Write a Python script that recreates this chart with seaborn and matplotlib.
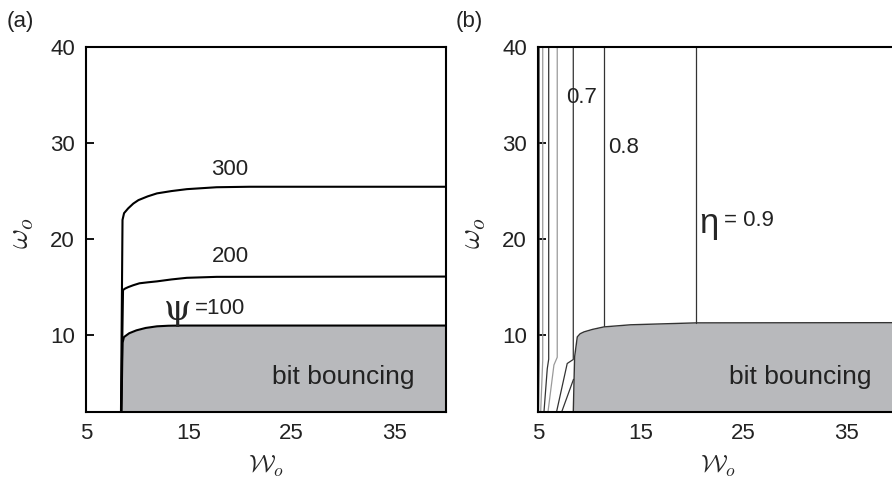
import matplotlib
matplotlib.use("Agg")
import matplotlib.pyplot as plt
import seaborn as sns
import pandas as pd

# ---------------- data ----------------
# Panel (a): psi iso-lines (x = W_o, y = omega_o)
psi_labels = ["=100", "200", "300"]
psi100_x = [8.45, 8.55, 8.69, 9.2, 9.9, 10.8, 11.9, 13.0, 14.2, 40.0]
psi100_y = [2.0, 9.2, 9.8, 10.2, 10.5, 10.75, 10.92, 10.98, 11.0, 11.0]
psi200_x = [8.42, 8.6, 8.8, 9.1, 9.6, 10.2, 11.0, 11.9, 13.3, 14.8, 17.7, 40.0]
psi200_y = [2.0, 14.7, 14.85, 15.0, 15.2, 15.4, 15.5, 15.6, 15.8, 15.97, 16.07, 16.1]
psi300_x = [8.40, 8.55, 8.7, 9.1, 9.6, 10.1, 11.0, 11.9, 13.3, 14.8, 17.7, 20.9, 40.0]
psi300_y = [2.0, 22.0, 22.7, 23.2, 23.7, 24.06, 24.45, 24.76, 25.0, 25.2, 25.4, 25.45, 25.45]

# Panel (b): bit-bouncing boundary and eta iso-lines
bounce_b_x = [8.43, 8.56, 8.82, 9.1, 9.47, 10.3, 11.41, 14.0, 20.4, 40.0]
bounce_b_y = [2.0, 7.74, 9.82, 10.15, 10.34, 10.6, 10.86, 11.08, 11.28, 11.3]
eta_labels = ["0.7", "0.8", "= 0.9"]
eta_lines = {
    "l1": ([5.1, 5.1, 5.05], [40, 7.5, 2.0]),
    "l2": ([5.46, 5.46, 5.26], [40, 7.4, 2.0]),
    "l3": ([6.04, 6.04, 5.9, 5.58], [40, 7.5, 6.5, 2.0]),
    "l4": ([6.87, 6.87, 6.55, 5.97], [40, 7.7, 6.9, 2.0]),
    "0.7": ([8.43, 8.43, 7.84, 6.8], [40, 7.47, 7.05, 2.0]),
    "l6": ([8.45, 7.3], [5.4, 2.0]),
    "0.8": ([11.44, 11.44], [40, 10.95]),
    "0.9": ([20.4, 20.4], [40, 11.28]),
}
eta_colors = {"l1": "#333333", "l2": "#9a9a9a", "l3": "#333333", "l4": "#9a9a9a",
              "0.7": "#333333", "l6": "#333333", "0.8": "#333333", "0.9": "#333333"}

x_ticks = [5, 15, 25, 35]
y_ticks = [10, 20, 30, 40]

# ---------------- style ----------------
sns.set_theme(style="ticks")
plt.rcParams["font.family"] = ["Liberation Sans", "DejaVu Sans"]
plt.rcParams["mathtext.fontset"] = "cm"

GREY = "#b8b9bc"
TXT = "#222222"
fig = plt.figure(figsize=(8.92, 4.82), dpi=100)
axa = fig.add_axes([86 / 892, 1 - 412 / 482, 360 / 892, 365 / 482])
axb = fig.add_axes([538 / 892, 1 - 412 / 482, 360 / 892, 365 / 482])


def line(ax, xs, ys, color, lw):
    df = pd.DataFrame({"x": xs, "y": ys})
    sns.lineplot(data=df, x="x", y="y", ax=ax, sort=False, estimator=None,
                 color=color, lw=lw)


# Panel (a)
axa.fill_between(psi100_x, 2, psi100_y, color=GREY, lw=0, zorder=1)
for xs, ys in [(psi100_x, psi100_y), (psi200_x, psi200_y), (psi300_x, psi300_y)]:
    line(axa, xs, ys, "black", 1.5)
axa.text(19.0, 27.2, psi_labels[2], fontsize=16, ha="center", va="center", color=TXT)
axa.text(19.0, 18.2, psi_labels[1], fontsize=16, ha="center", va="center", color=TXT)
axa.text(13.9, 12.6, "ψ", fontsize=25, family="DejaVu Serif", ha="center", va="center")
axa.text(15.6, 12.75, psi_labels[0], fontsize=16, ha="left", va="center", color=TXT)
axa.text(30.0, 5.6, "bit bouncing", fontsize=19, ha="center", va="center", color=TXT)

# Panel (b)
axb.fill_between(bounce_b_x, 2, bounce_b_y, color=GREY, lw=0, zorder=1)
line(axb, bounce_b_x, bounce_b_y, "#333333", 1.0)
for k, (xs, ys) in eta_lines.items():
    line(axb, xs, ys, eta_colors[k], 0.9)
axb.text(9.27, 34.7, eta_labels[0], fontsize=16, ha="center", va="center", color=TXT)
axb.text(13.3, 29.5, eta_labels[1], fontsize=16, ha="center", va="center", color=TXT)
axb.text(21.6, 21.6, "η", fontsize=25, ha="center", va="center")
axb.text(23.1, 21.9, eta_labels[2], fontsize=16, ha="left", va="center", color=TXT)
axb.text(30.5, 5.6, "bit bouncing", fontsize=19, ha="center", va="center", color=TXT)

for ax in (axa, axb):
    ax.set_xlim(5, 40)
    ax.set_ylim(2, 40)
    ax.set_xticks(x_ticks)
    ax.set_yticks(y_ticks)
    ax.tick_params(direction="in", length=5.5, width=1.3, labelsize=16, pad=8,
                   colors="black", labelcolor=TXT, top=False, right=False)
    for s in ax.spines.values():
        s.set_linewidth(1.5)
        s.set_color("black")
    ax.set_xlabel(r"$\mathcal{W}_o$", fontsize=18)
    ax.set_ylabel(r"$\omega_o$", fontsize=22)
    ax.xaxis.set_label_coords(0.5, -0.115)
    ax.yaxis.set_label_coords(-0.14, 0.49)

fig.text(20 / 892, 1 - 21 / 482, "(a)", fontsize=16, ha="center", va="center", color=TXT)
fig.text(469 / 892, 1 - 21 / 482, "(b)", fontsize=16, ha="center", va="center", color=TXT)

fig.savefig("out.png", dpi=100)
